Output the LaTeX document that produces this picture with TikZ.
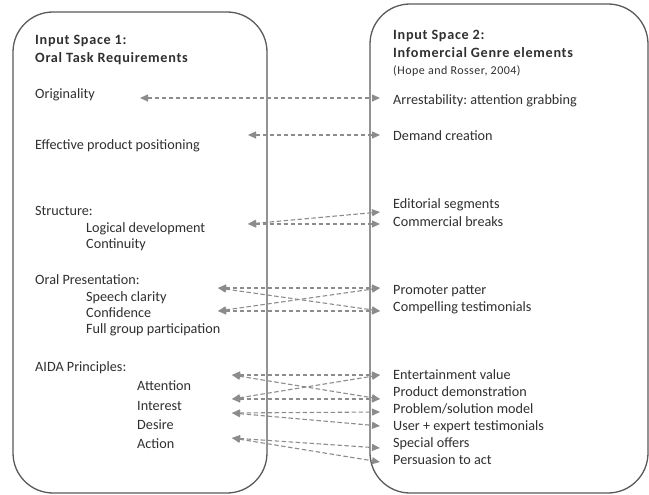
\documentclass[tikz,border=0pt]{standalone}
\usepackage{fontspec}
\setmainfont{Carlito}
\usetikzlibrary{arrows.meta}
\definecolor{txt}{HTML}{303030}
\definecolor{ln}{HTML}{8C8C8C}
\definecolor{bx}{HTML}{5A5A5A}
\frenchspacing
\begin{document}
\begin{tikzpicture}[x=1pt,y=-1pt,
  space/.style={draw=bx,line width=1.3pt,rounded corners=40pt},
  lbl/.style={anchor=west,inner sep=0pt,text=txt,text height=10pt,text depth=3pt,font=\fontsize{14.2}{17}\selectfont},
  ttl/.style={lbl,font=\fontsize{14.2}{17}\selectfont\bfseries\addfontfeature{LetterSpace=5}},
  small/.style={lbl,font=\fontsize{12}{13}\selectfont\addfontfeature{LetterSpace=4},text height=8pt,text depth=2.5pt},
  link/.style={draw=ln,line width=1.1pt,dash pattern=on 4.5pt off 2.5pt,{Triangle[length=8pt,width=7pt]}-{Triangle[length=8pt,width=7pt]}}]
\useasboundingbox (0,0) rectangle (649,495);
\fill[white] (0,0) rectangle (649,495);
% boxes
\draw[space] (13,12) rectangle (267,493);
\draw[space] (370,4) rectangle (648,493);
% left texts
\node[ttl] (t1a) at (35,41) {Input Space 1:};
\node[ttl] (t1b) at (35,59) {Oral Task Requirements};
\node[lbl] (orig) at (35,95) {Originality};
\node[lbl] (eff) at (35,146) {Effective product positioning};
\node[lbl] (str) at (35,212) {Structure:};
\node[lbl] (logi) at (86,229) {Logical development};
\node[lbl] (cont) at (86,245) {Continuity};
\node[lbl] (oral) at (35,281) {Oral Presentation:};
\node[lbl] (spee) at (86,298) {Speech clarity};
\node[lbl] (conf) at (86,314) {Confidence};
\node[lbl] (full) at (86,330) {Full group participation};
\node[lbl] (aida) at (35,368) {AIDA Principles:};
\node[lbl] (att) at (137,387) {Attention};
\node[lbl] (int) at (137,407) {Interest};
\node[lbl] (des) at (137,426) {Desire};
\node[lbl] (act) at (137,445) {Action};
% right texts
\node[ttl] (t2a) at (393,36) {Input Space 2:};
\node[ttl] (t2b) at (393,54) {Infomercial Genre elements};
\node[small] (t2c) at (393,72) {(Hope and Rosser, 2004)};
\node[lbl] (arr) at (393,101) {Arrestability: attention grabbing};
\node[lbl] (dem) at (393,137) {Demand creation};
\node[lbl] (edi) at (393,205) {Editorial segments};
\node[lbl] (com) at (393,223) {Commercial breaks};
\node[lbl] (pro) at (393,291) {Promoter patter};
\node[lbl] (cmp) at (393,308) {Compelling testimonials};
\node[lbl] (ent) at (393,376) {Entertainment value};
\node[lbl] (pdm) at (393,393) {Product demonstration};
\node[lbl] (psm) at (393,410) {Problem/solution model};
\node[lbl] (usr) at (393,427) {User + expert testimonials};
\node[lbl] (spo) at (393,444) {Special offers};
\node[lbl] (per) at (393,461) {Persuasion to act};
% arrow tips
\coordinate (o1) at (140,98);
\coordinate (e1) at (248,135);
\coordinate (s1) at (248,224);
\coordinate (p1) at (218,288);
\coordinate (p2) at (218,311);
\coordinate (a1) at (232,375);
\coordinate (a2) at (232,399);
\coordinate (a3) at (232,413);
\coordinate (a4) at (232,438);
\coordinate (r1) at (380,98);
\coordinate (r2) at (380,135);
\coordinate (r3) at (380,212);
\coordinate (r4) at (380,224);
\coordinate (r5) at (380,288);
\coordinate (r6) at (380,311);
\coordinate (r7) at (380,375);
\coordinate (r8) at (380,399);
\coordinate (r9) at (380,412);
\coordinate (r10) at (380,426);
\coordinate (r11) at (380,448);
\coordinate (r12) at (380,462);
% links
\draw[link] (o1) -- (r1);
\draw[link] (e1) -- (r2);
\draw[link] (s1) -- (r3);
\draw[link] (s1) -- (r4);
\draw[link] (p1) -- (r5);
\draw[link] (p1) -- (r6);
\draw[link] (p2) -- (r5);
\draw[link] (p2) -- (r6);
\draw[link] (a1) -- (r7);
\draw[link] (a1) -- (r8);
\draw[link] (a2) -- (r7);
\draw[link] (a2) -- (r8);
\draw[link] (a3) -- (r9);
\draw[link] (a3) -- (r10);
\draw[link] (a4) -- (r11);
\draw[link] (a4) -- (r12);
\end{tikzpicture}
\end{document}
